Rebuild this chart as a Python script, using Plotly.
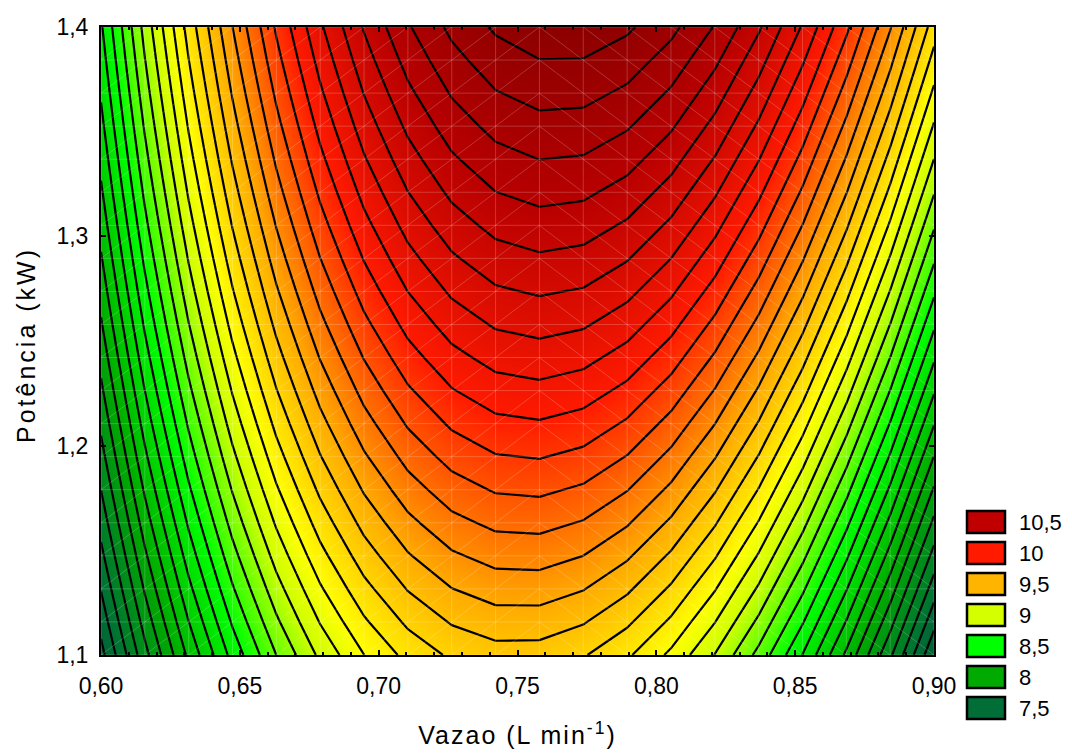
import numpy as np
import plotly.graph_objects as go

# ---- data (fitted quadratic response surface) ----
# z = b0 + b1*x + b2*y + b11*x^2 + b22*y^2 + b12*x*y
coef_names = ["b0", "b1", "b2", "b11", "b22", "b12"]
coef_values = [-44.01, 123.6, 6.817, -90.0, -3.814, 10.2]

x_range = [0.60, 0.90]
y_range = [1.10, 1.40]
grid_points = 20          # mesh nodes per axis in the original surface

x_ticks = [0.60, 0.65, 0.70, 0.75, 0.80, 0.85, 0.90]
y_ticks = [1.1, 1.2, 1.3, 1.4]

contour_start, contour_end, contour_step = 7.0, 11.0, 0.1

legend_labels = ["10,5", "10", "9,5", "9", "8,5", "8", "7,5"]
legend_colors = ["#c00000", "#ff1a00", "#ffb400", "#d4ff00", "#00ff00", "#00aa00", "#006e36"]

# colour ramp (value, colour)
ramp_values = [7.25, 7.5, 8.0, 8.5, 8.9, 9.1, 9.5, 10.0, 10.5, 10.9]
ramp_colors = ["#005a2e", "#006e36", "#00aa00", "#00ff00", "#ccff00", "#ffff00",
               "#ffaa00", "#ff1a00", "#b80000", "#880000"]

x_title = "Vazao (L min<sup>-1</sup>)"
y_title = "Potência (kW)"

# ---- surface on the mesh ----
c = dict(zip(coef_names, coef_values))
xg = np.linspace(x_range[0], x_range[1], grid_points)
yg = np.linspace(y_range[0], y_range[1], grid_points)
X, Y = np.meshgrid(xg, yg)
Z = (c["b0"] + c["b1"] * X + c["b2"] * Y + c["b11"] * X**2
     + c["b22"] * Y**2 + c["b12"] * X * Y)

zmin, zmax = ramp_values[0], ramp_values[-1]
colorscale = [[(v - zmin) / (zmax - zmin), col] for v, col in zip(ramp_values, ramp_colors)]

FONT = "Liberation Sans, Arial, sans-serif"

fig = go.Figure()
fig.add_trace(go.Heatmap(
    x=xg, y=yg, z=Z, zmin=zmin, zmax=zmax, colorscale=colorscale,
    zsmooth="best", showscale=False, hoverinfo="skip"))

# faint white mesh lines (as in the original surface mesh)
mx, my = [], []
for xv in xg:
    mx += [xv, xv, None]; my += [yg[0], yg[-1], None]
for yv in yg:
    mx += [xg[0], xg[-1], None]; my += [yv, yv, None]
mid = grid_points // 2
for i in range(grid_points - 1):
    for j in range(grid_points - 1):
        if i < mid:
            mx += [xg[i], xg[i + 1], None]; my += [yg[j], yg[j + 1], None]
        else:
            mx += [xg[i], xg[i + 1], None]; my += [yg[j + 1], yg[j], None]
fig.add_trace(go.Scatter(x=mx, y=my, mode="lines",
                         line=dict(color="rgba(255,255,255,0.2)", width=1),
                         hoverinfo="skip", showlegend=False))

fig.add_trace(go.Contour(
    x=xg, y=yg, z=Z, contours=dict(coloring="none", start=contour_start,
                                   end=contour_end, size=contour_step),
    line=dict(color="black", width=2.2, smoothing=0), showscale=False,
    hoverinfo="skip"))

# ---- layout ----
L, R, T, B = 101, 138, 27, 99
W, H = 1072, 754
pw, ph = W - L - R, H - T - B


def px2x(px):
    return (px - L) / pw


def px2y(py):
    return (H - B - py) / ph


def spaced(txt, sp):
    return '<span style="letter-spacing:%dpx">%s</span>' % (sp, txt)


shapes, annos = [], []
for k, (lab, col) in enumerate(zip(legend_labels, legend_colors)):
    top = 511 + 31 * k
    shapes.append(dict(type="rect", xref="paper", yref="paper",
                       x0=px2x(967), x1=px2x(1005), y0=px2y(top + 22), y1=px2y(top),
                       fillcolor=col, line=dict(color="black", width=2.5)))
    annos.append(dict(xref="paper", yref="paper", x=px2x(1017), y=px2y(top + 11),
                      text=lab, showarrow=False, xanchor="left", yanchor="middle",
                      font=dict(family=FONT, size=22, color="black")))

# y-axis title
annos.append(dict(xref="paper", yref="paper", x=px2x(26), y=px2y(345),
                  text=spaced(y_title, 3), showarrow=False, textangle=-90,
                  xanchor="center", yanchor="middle",
                  font=dict(family=FONT, size=25, color="black")))

fig.update_layout(
    width=W, height=H, margin=dict(l=L, r=R, t=T, b=B, autoexpand=False),
    paper_bgcolor="white", plot_bgcolor="white", separators=",.",
    showlegend=False, shapes=shapes, annotations=annos,
    font=dict(family=FONT, color="black"),
    xaxis=dict(range=x_range, tickvals=x_ticks, tickformat=".2f", automargin=False,
               ticks="inside", ticklen=5, tickcolor="black", tickwidth=1.5,
               minor=dict(dtick=0.01, ticks="inside", ticklen=3, tickcolor="black"),
               showline=True, linecolor="black", linewidth=2, mirror="ticks",
               showgrid=False, zeroline=False, ticklabelstandoff=9,
               tickfont=dict(family=FONT, size=23, color="black"),
               title=dict(text=spaced(x_title, 2), standoff=29,
                          font=dict(family=FONT, size=25, color="black"))),
    yaxis=dict(range=y_range, tickvals=y_ticks, tickformat=".1f", automargin=False,
               ticks="inside", ticklen=5, tickcolor="black", tickwidth=1.5,
               showline=True, linecolor="black", linewidth=2, mirror="ticks",
               showgrid=False, zeroline=False, ticklabelstandoff=6,
               tickfont=dict(family=FONT, size=23, color="black")),
)

fig.write_html("out.html")
